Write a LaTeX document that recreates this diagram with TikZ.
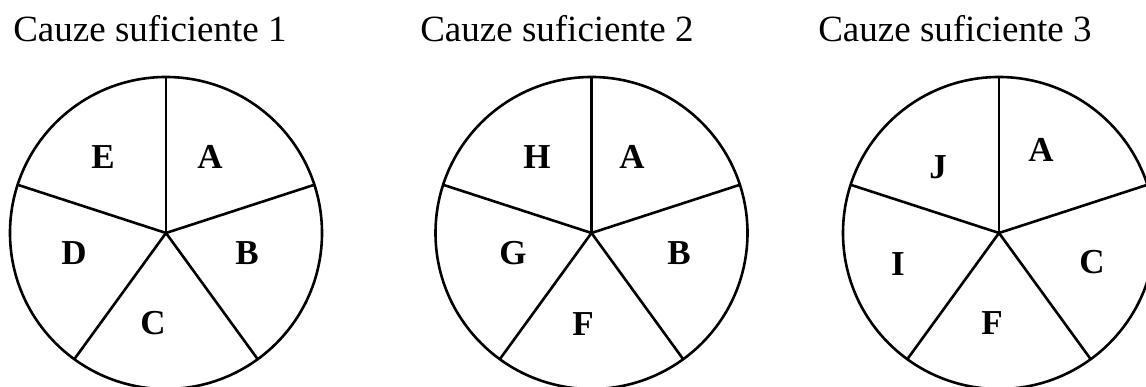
\documentclass[tikz,border=0pt]{standalone}
\usepackage{fontspec}
\setmainfont{Liberation Serif}
\begin{document}
\begin{tikzpicture}[x=1pt,y=1pt, line width=2.6pt]
  \tikzstyle{title}=[anchor=base west,inner sep=0pt,font=\fontsize{37}{42}\selectfont]
  \tikzstyle{part}=[inner sep=0pt,font=\fontsize{35}{40}\selectfont\bfseries]
  \useasboundingbox (0,0) rectangle (1146,387);
  % titles
  \node[title] (t1) at (12,345) {Cauze suficiente 1};
  \node[title] (t2) at (419,345) {Cauze suficiente 2};
  \node[title] (t3) at (817,345) {Cauze suficiente 3};
  % pies
  \coordinate (c1) at (166,154);
  \coordinate (c2) at (591.5,154);
  \coordinate (c3) at (999,154);
  \draw (c1) circle (156);
  \draw (c2) circle (156);
  \draw (c3) circle (156);
  \foreach \a in {90,18,-54,-126,162} {
    \draw (c1) -- ++(\a:156);
    \draw (c2) -- ++(\a:156);
    \draw (c3) -- ++(\a:156);
  }
  % causes, pie 1
  \node[part] (e1) at (103,230) {E};
  \node[part] (a1) at (210,230) {A};
  \node[part] (d1) at (74,134) {D};
  \node[part] (b1) at (247,134) {B};
  \node[part] (cc1) at (153,64) {C};
  % causes, pie 2
  \node[part] (h2) at (537,230) {H};
  \node[part] (a2) at (632,230) {A};
  \node[part] (g2) at (513,134) {G};
  \node[part] (b2) at (679,134) {B};
  \node[part] (f2) at (583,63) {F};
  % causes, pie 3
  \node[part] (j3) at (938,220) {J};
  \node[part] (a3) at (1041,237) {A};
  \node[part] (i3) at (898,123) {I};
  \node[part] (cc3) at (1092,125) {C};
  \node[part] (f3) at (992,64) {F};
\end{tikzpicture}
\end{document}
